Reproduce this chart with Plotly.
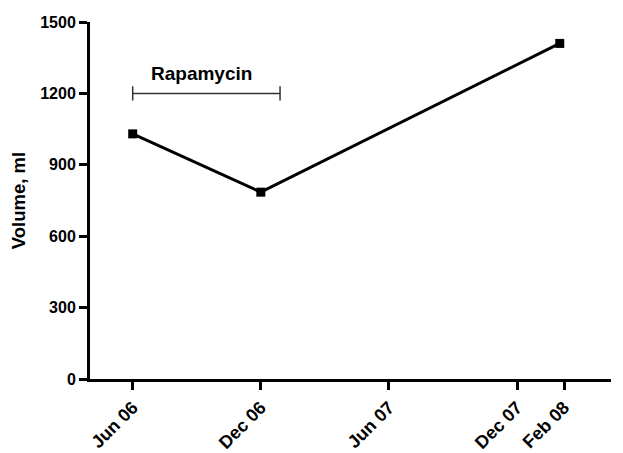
import plotly.graph_objects as go

# Data
months = [0, 6, 20]            # months since Jun 06
volume = [1030, 785, 1410]     # ml
tick_months = [0, 6, 12, 18, 20.2]
tick_labels = ["Jun 06", "Dec 06", "Jun 07", "Dec 07", "Feb 08"]
y_ticks = [0, 300, 600, 900, 1200, 1500]
rapa_start, rapa_end, rapa_level = 0, 6.9, 1200
rapa_label_x = 3.2

font_family = "Liberation Sans, Arial, sans-serif"

fig = go.Figure()

fig.add_trace(go.Scatter(
    x=months, y=volume, mode="lines+markers",
    line=dict(color="black", width=3),
    marker=dict(symbol="square", size=9, color="black"),
    showlegend=False, cliponaxis=False,
))

# Rapamycin treatment bar with end caps
fig.add_trace(go.Scatter(
    x=[rapa_start, rapa_end], y=[rapa_level, rapa_level], mode="lines",
    line=dict(color="#333333", width=1.5), showlegend=False,
))
for xv in (rapa_start, rapa_end):
    fig.add_shape(type="line", x0=xv, x1=xv, xref="x", yref="y",
                  y0=rapa_level - 30, y1=rapa_level + 30,
                  line=dict(color="#333333", width=1.5))

fig.add_annotation(x=rapa_label_x, y=rapa_level, yshift=20,
                   text="<b>Rapamycin</b>", showarrow=False,
                   font=dict(family=font_family, size=19, color="black"))

# page body adds an 8px offset; figure sized to fit inside the window
fig.update_layout(
    width=615, height=445,
    margin=dict(l=82, r=12, t=14, b=74),
    paper_bgcolor="white", plot_bgcolor="white",
    font=dict(family=font_family, color="black"),
)

fig.update_xaxes(
    range=[-2.0, 22.4], tickvals=tick_months,
    ticktext=[f"<b>{t}</b>" for t in tick_labels],
    tickangle=-45, tickfont=dict(size=18, family=font_family),
    showline=True, linecolor="black", linewidth=3,
    ticks="outside", ticklen=8, tickwidth=3, tickcolor="black",
    showgrid=False, zeroline=False, automargin=False,
)
fig.update_yaxes(
    range=[0, 1500], tickvals=y_ticks,
    ticktext=[f"<b>{v}</b>" for v in y_ticks],
    tickfont=dict(size=16, family=font_family),
    title=dict(text="<b>Volume, ml</b>", font=dict(size=18.5, family=font_family), standoff=14),
    showline=True, linecolor="black", linewidth=3,
    ticks="outside", ticklen=8, tickwidth=3, tickcolor="black",
    showgrid=False, zeroline=False, automargin=False,
)

fig.write_html("out.html")
